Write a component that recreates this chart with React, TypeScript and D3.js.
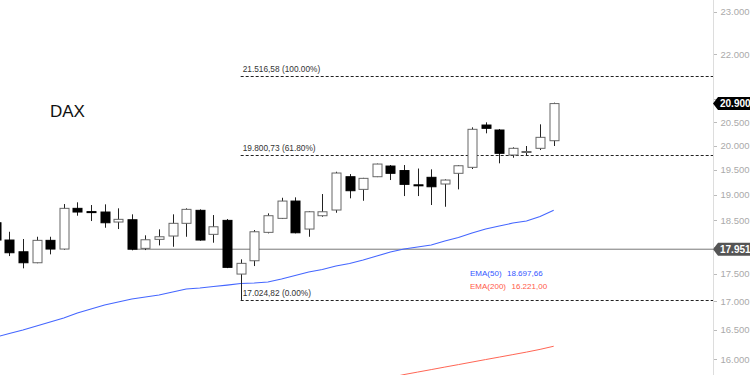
import React from "react";
import * as d3 from "d3";

const W = 750;
const H = 375;

const weeks = [
  "2024-04-01", "2024-04-08", "2024-04-15", "2024-04-22", "2024-04-29", "2024-05-06",
  "2024-05-13", "2024-05-20", "2024-05-27", "2024-06-03", "2024-06-10", "2024-06-17",
  "2024-06-24", "2024-07-01", "2024-07-08", "2024-07-15", "2024-07-22", "2024-07-29",
  "2024-08-05", "2024-08-12", "2024-08-19", "2024-08-26", "2024-09-02", "2024-09-09",
  "2024-09-16", "2024-09-23", "2024-09-30", "2024-10-07", "2024-10-14", "2024-10-21",
  "2024-10-28", "2024-11-04", "2024-11-11", "2024-11-18", "2024-11-25", "2024-12-02",
  "2024-12-09", "2024-12-16", "2024-12-23", "2024-12-30", "2025-01-06", "2025-01-13",
];

const opens = [
  18454, 18124, 17903, 17699, 18118, 17954, 18734, 18670, 18662, 18468, 18512, 17967,
  18137, 18200, 18443, 18695, 18232, 18500, 17491, 17736, 18270, 18539, 18877, 18333,
  18590, 18701, 19363, 19109, 19363, 19580, 19488, 19200, 19351, 19216, 19432, 19554,
  20437, 20331, 19807, 19870, 19946, 20105,
];
const highs = [
  18545, 18281, 18143, 18186, 18186, 18818, 18852, 18799, 18812, 18734, 18617, 18213,
  18327, 18617, 18734, 18714, 18603, 18526, 17762, 18314, 18636, 18942, 18950, 18680,
  19016, 19464, 19417, 19340, 19630, 19601, 19601, 19529, 19513, 19310, 19601, 20388,
  20495, 20352, 19967, 19994, 20452, 20920,
];
const lows = [
  18067, 17823, 17596, 17690, 17855, 17940, 18590, 18487, 18358, 18333, 17930, 17935,
  18023, 17997, 18186, 18110, 18073, 17600, 17024.82, 17638, 18251, 18526, 18251, 18186,
  18570, 18648, 18931, 18883, 19355, 19296, 18976, 18976, 18799, 18765, 19109, 19519,
  20261, 19636, 19751, 19807, 19910, 19994,
];
const closes = [
  18124, 17885, 17699, 18118, 17954, 18734, 18662, 18655, 18454, 18520, 17951, 18129,
  18186, 18443, 18714, 18124, 18377, 17614, 17688, 18281, 18590, 18877, 18262, 18667,
  18667, 19438, 19082, 19330, 19621, 19432, 19209, 19180, 19161, 19296, 19586, 20346,
  20367, 19842, 19946, 19880, 20176, 20900,
];

const ema50 = [
  16377, 16437, 16497, 16566, 16636, 16705, 16793, 16863, 16934, 16987, 17040, 17076,
  17112, 17165, 17219, 17237, 17264, 17291, 17319, 17328, 17346, 17400, 17464, 17528,
  17574, 17638, 17684, 17749, 17823, 17898, 17954, 17992, 18029, 18105, 18171, 18257,
  18333, 18391, 18448, 18487, 18574, 18697.66,
];
const ema200 = [
  null, null, null, null, null, null, null, null, null, null, null, null,
  null, null, null, null, null, null, null, null, null, null, null, null,
  null, null, null, null, null, 15698, 15748, 15789, 15830, 15872, 15913, 15955,
  15997, 16038, 16080, 16122, 16168, 16221.0,
];

const fibLevels = [21516.58, 19800.73, 17024.82];
const fibPcts = ["100.00%", "61.80%", "0.00%"];
const fibAnchorWeek = "2024-08-05";

const supportLevel = 17951;
const supportStartWeek = "2024-06-10";

const yTicks = [23000, 22000, 21000, 20500, 20000, 19500, 19000, 18500, 18000, 17500, 17000, 16500, 16000];

const title = "DAX";

const de = d3.formatLocale({ decimal: ",", thousands: ".", grouping: [3], currency: ["", "€"] });
const fmt0 = de.format(",.0f");
const fmt2 = de.format(",.2f");

const FONT = "'Liberation Sans', Arial, sans-serif";

export default function App() {
  const axisX = 713;
  const x = d3.scaleBand<string>().domain(weeks).range([-11.1, 560.5]).padding(0);
  const cx = (w: string) => (x(w) as number) + x.bandwidth() / 2;
  const y = d3.scaleLog().domain([15741, 23288]).range([H, 0]);

  const bodyW = 9;

  const lineEma50 = d3
    .line<number>()
    .x((_, i) => cx(weeks[i]))
    .y((d) => y(d));
  const lineEma200 = d3
    .line<number | null>()
    .defined((d) => d != null)
    .x((_, i) => cx(weeks[i]))
    .y((d) => y(d as number));

  const tag = (v: number, fill: string) => {
    const yy = y(v);
    const h = 13;
    const path = `M${axisX},${yy} L${axisX + 5},${yy - h / 2} L${W + 2},${yy - h / 2} L${W + 2},${yy + h / 2} L${axisX + 5},${yy + h / 2} Z`;
    return (
      <g key={"tag" + v}>
        <path d={path} fill={fill} />
        <text x={axisX + 7} y={yy + 3.5} fill="#fff" fontSize={10} fontWeight="bold" fontFamily={FONT}>
          {fmt0(v)}
        </text>
      </g>
    );
  };

  return (
    <svg width={W} height={H} style={{ position: "absolute", left: 0, top: 0, background: "#fff" }}>
      <defs>
        <clipPath id="plot">
          <rect x={0} y={0} width={axisX} height={H} />
        </clipPath>
      </defs>

      <g clipPath="url(#plot)">
        <line
          x1={cx(supportStartWeek)}
          x2={axisX}
          y1={y(supportLevel)}
          y2={y(supportLevel)}
          stroke="#777"
          strokeWidth={1}
        />
        {fibLevels.map((v, i) => (
          <g key={"fib" + i}>
            <line
              x1={cx(fibAnchorWeek)}
              x2={axisX}
              y1={Math.round(y(v)) + 0.5}
              y2={Math.round(y(v)) + 0.5}
              stroke="#222"
              strokeWidth={1}
              strokeDasharray="3,2"
            />
            <text x={cx(fibAnchorWeek) + 2} y={y(v) - 4} fontSize={8.3} fill="#333" fontFamily={FONT}>
              {`${fmt2(v)} (${fibPcts[i]})`}
            </text>
          </g>
        ))}

        <path d={lineEma50(ema50) || ""} fill="none" stroke="#4466ff" strokeWidth={1.1} />
        <path d={lineEma200(ema200) || ""} fill="none" stroke="#ff6655" strokeWidth={1} />

        {weeks.map((w, i) => {
          const o = opens[i];
          const c = closes[i];
          const up = c >= o;
          const xc = Math.round(cx(w)) + 0.5;
          const top = y(Math.max(o, c));
          const bot = y(Math.min(o, c));
          const bh = Math.max(1, bot - top);
          return (
            <g key={w}>
              <line x1={xc} x2={xc} y1={y(highs[i])} y2={y(lows[i])} stroke="#222" strokeWidth={1} />
              <rect
                x={xc - bodyW / 2}
                y={top}
                width={bodyW}
                height={bh}
                fill={up ? "#fff" : "#000"}
                stroke={up ? "#666" : "#000"}
                strokeWidth={1}
              />
            </g>
          );
        })}
      </g>

      <text x={50} y={117} fontSize={17} fill="#111" fontFamily={FONT}>
        {title}
      </text>

      <text x={470} y={275.5} fontSize={8} fill="#3355ff" fontFamily={FONT}>
        EMA(50)
        <tspan x={507}>{fmt2(ema50[ema50.length - 1])}</tspan>
      </text>
      <text x={470} y={288.5} fontSize={8} fill="#ff5a4a" fontFamily={FONT}>
        EMA(200)
        <tspan x={511.5}>{fmt2(ema200[ema200.length - 1] as number)}</tspan>
      </text>

      <line x1={axisX + 0.5} x2={axisX + 0.5} y1={0} y2={H} stroke="#ddd" strokeWidth={1} />
      {yTicks.map((t) => (
        <g key={"t" + t}>
          <line x1={axisX + 1} x2={axisX + 4} y1={Math.round(y(t)) + 0.5} y2={Math.round(y(t)) + 0.5} stroke="#bbb" />
          <text x={720.5} y={y(t) + 3.5} fontSize={9.5} fill="#aaa" fontFamily={FONT}>
            {fmt0(t)}
          </text>
        </g>
      ))}
      {tag(closes[closes.length - 1], "#000")}
      {tag(supportLevel, "#555")}
    </svg>
  );
}
